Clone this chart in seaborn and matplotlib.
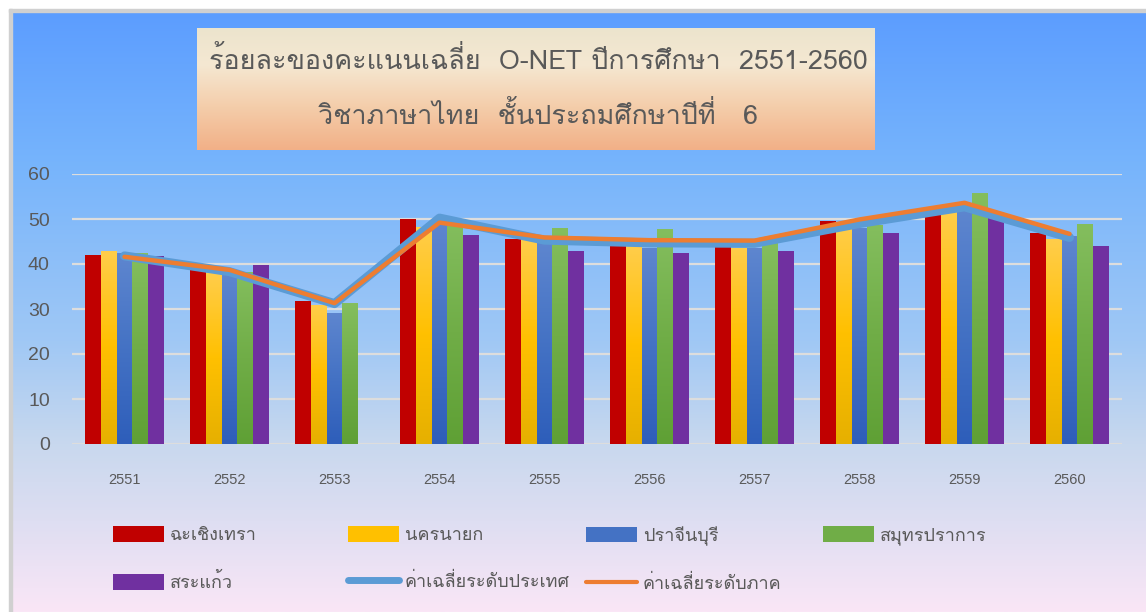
import numpy as np
import pandas as pd
import matplotlib
matplotlib.use('Agg')
import matplotlib.pyplot as plt
import seaborn as sns
from matplotlib import font_manager as fm
from matplotlib.colors import to_rgb
from matplotlib.lines import Line2D
from matplotlib.patches import Patch, Rectangle

# ---------------- data ----------------
years = ['2551', '2552', '2553', '2554', '2555', '2556', '2557', '2558', '2559', '2560']
provinces = ['ฉะเชิงเทรา', 'นครนายก', 'ปราจีนบุรี', 'สมุทรปราการ', 'สระแก้ว']
chachoengsao = [41.9, 38.8, 31.7, 49.9, 45.5, 44.1, 43.8, 49.6, 51.3, 46.9]
nakhon_nayok = [42.9, 37.9, 30.9, 48.3, 45.3, 43.9, 43.6, 49.0, 51.6, 45.5]
prachinburi = [42.4, 38.0, 29.2, 49.5, 45.0, 43.6, 43.6, 47.9, 52.4, 46.2]
samut_prakan = [42.4, 38.3, 31.3, 49.8, 48.1, 47.7, 44.6, 48.7, 55.7, 49.0]
sa_kaeo = [41.8, 39.7, np.nan, 46.4, 42.9, 42.4, 42.9, 46.9, 50.5, 44.1]
national_avg = [41.8, 38.3, 31.2, 50.2, 45.3, 44.7, 44.6, 49.0, 52.7, 45.9]
regional_avg = [41.6, 38.7, 31.3, 49.2, 45.9, 45.3, 45.2, 49.9, 53.6, 46.7]
national_label = 'ค่าเฉลี่ยระดับประเทศ'
regional_label = 'ค่าเฉลี่ยระดับภาค'
title_line1 = 'ร้อยละของคะแนนเฉลี่ย  O-NET ปีการศึกษา  2551-2560'
title_line2 = 'วิชาภาษาไทย  ชั้นประถมศึกษาปีที่   6'
yticks = [0, 10, 20, 30, 40, 50, 60]

bar_colors = ['#C00000', '#FFC000', '#4472C4', '#70AD47', '#7030A0']
line_national_color = '#5B9BD5'
line_regional_color = '#ED7D31'
text_color = '#595959'

# ---------------- fonts ----------------
sns.set_theme(style='white')
installed = {f.name for f in fm.fontManager.ttflist}
thai = None
for cand in ['Loma', 'Waree', 'Umpush', 'Garuda', 'Noto Sans Thai Looped']:
    if cand in installed:
        thai = cand
        break
fam = ([thai] if thai else []) + ['Noto Sans', 'DejaVu Sans']
plt.rcParams['font.family'] = fam

# ---------------- figure ----------------
W, H = 1146, 612
fig = plt.figure(figsize=(W / 100, H / 100), dpi=100, facecolor='white')

def fx(px):
    return px / W

def fy(py):
    return 1 - py / H

# background gradient panel
bg = fig.add_axes([fx(11), 0, 1 - fx(11), fy(11)])
bg.set_zorder(-5)
stops = [(0.0, (92, 157, 255)), (0.25, (118, 180, 252)), (0.55, (160, 200, 245)),
         (0.72, (200, 216, 238)), (0.85, (222, 222, 242)), (1.0, (250, 230, 246))]
n = 300
t = np.linspace(0, 1, n)
grad = np.zeros((n, 1, 3))
for c in range(3):
    grad[:, 0, c] = np.interp(t, [s[0] for s in stops], [s[1][c] / 255 for s in stops])
bg.imshow(grad, aspect='auto', extent=[0, 1, 0, 1], origin='upper')
bg.set_xlim(0, 1); bg.set_ylim(0, 1)
bg.axis('off')
fig.add_artist(Rectangle((fx(9), 0), fx(2.5), fy(9), transform=fig.transFigure,
                         color='#D0D0D0', zorder=-4))
fig.add_artist(Rectangle((fx(9), fy(11.5)), 1, fx(2.5) * W / H, transform=fig.transFigure,
                         color='#D0D0D0', zorder=-4))

# title box
tb = fig.add_axes([fx(197), fy(150), fx(875 - 197), fy(28) - fy(150)])
tstops = [(0.0, (236, 228, 205)), (0.3, (245, 232, 210)), (0.65, (244, 205, 170)), (1.0, (242, 176, 135))]
tgrad = np.zeros((n, 1, 3))
for c in range(3):
    tgrad[:, 0, c] = np.interp(t, [s[0] for s in tstops], [s[1][c] / 255 for s in tstops])
tb.imshow(tgrad, aspect='auto', extent=[0, 1, 0, 1], origin='upper')
tb.axis('off')
fig.text(fx(538), fy(60), title_line1, ha='center', va='center', fontsize=19.4,
         color=text_color)
fig.text(fx(538), fy(115), title_line2, ha='center', va='center', fontsize=19.4,
         color=text_color)

# main axes
ax = fig.add_axes([fx(72), fy(444), fx(1122 - 72), fy(174) - fy(444)])
ax.set_facecolor('none')

df = pd.DataFrame({
    'year': np.repeat(years, 5),
    'province': provinces * len(years),
    'value': np.array([chachoengsao, nakhon_nayok, prachinburi, samut_prakan, sa_kaeo]).T.ravel(),
}).dropna()

sns.barplot(data=df, x='year', y='value', hue='province', order=years, hue_order=provinces,
            palette=bar_colors, width=0.76, saturation=1, errorbar=None, legend=False,
            linewidth=0, ax=ax, zorder=3)

# gradient shading on bars
shade = {'#FFC000': ('#FFCD4A', '#FFC000', '#E6B000'),
         '#4472C4': ('#5E86CF', '#4472C4', '#2E5EBA'),
         '#70AD47': ('#84BE5E', '#70AD47', '#5FA035')}
for p in ax.patches:
    col = matplotlib.colors.to_hex(p.get_facecolor()).upper()
    if col in shade:
        top, mid, bot = [np.array(to_rgb(c)) for c in shade[col]]
        g = np.zeros((100, 1, 3))
        tt = np.linspace(0, 1, 100)
        for c in range(3):
            g[:, 0, c] = np.interp(tt, [0, 0.5, 1], [top[c], mid[c], bot[c]])
        x0, y0 = p.get_x(), p.get_y()
        im = ax.imshow(g, aspect='auto', extent=[x0, x0 + p.get_width(), y0, y0 + p.get_height()],
                       origin='upper', zorder=3.5)
        im.set_clip_path(p)

xpos = np.arange(len(years))
sns.lineplot(x=xpos, y=national_avg, ax=ax, color=line_national_color, linewidth=6.5,
             solid_capstyle='round', solid_joinstyle='round', zorder=5)
sns.lineplot(x=xpos, y=regional_avg, ax=ax, color=line_regional_color, linewidth=3.2,
             solid_capstyle='round', solid_joinstyle='round', zorder=6)

ax.set_xlim(-0.5, len(years) - 0.5)
ax.set_ylim(0, 60)
ax.set_yticks(yticks)
ax.grid(axis='y', color='#DDDDDD', linewidth=1.6, zorder=1)
ax.grid(axis='x', visible=False)
for s in ax.spines.values():
    s.set_visible(False)
ax.set_xlabel('')
ax.set_ylabel('')
ax.tick_params(axis='x', length=0, pad=21, labelsize=10.5, labelcolor=text_color)
ax.tick_params(axis='y', length=0, pad=16, labelsize=14, labelcolor=text_color)
for lab in ax.get_xticklabels() + ax.get_yticklabels():
    lab.set_fontfamily(['Liberation Sans', 'DejaVu Sans'])

# legends (one per column)
handles = [Patch(facecolor=c, edgecolor='none') for c in bar_colors]
lnat = Line2D([], [], color=line_national_color, linewidth=5, solid_capstyle='round')
lreg = Line2D([], [], color=line_regional_color, linewidth=3, solid_capstyle='round')
cols = [
    ([handles[0], handles[4]], [provinces[0], provinces[4]], 113),
    ([handles[1], lnat], [provinces[1], national_label], 348),
    ([handles[2], lreg], [provinces[2], regional_label], 586),
    ([handles[3]], [provinces[3]], 823),
]
for hs, ls, x in cols:
    fig.legend(hs, ls, loc='upper left', bbox_to_anchor=(fx(x), fy(526)), frameon=False,
               fontsize=13, labelcolor=text_color, handlelength=2.8, handleheight=0.95,
               handletextpad=0.35, labelspacing=1.62, borderpad=0, borderaxespad=0)

fig.savefig('out.png', dpi=100, facecolor='white')
